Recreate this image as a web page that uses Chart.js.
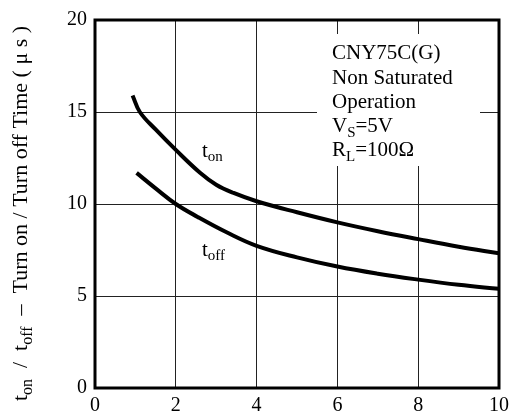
<!DOCTYPE html>
<html><head><meta charset="utf-8">
<style>html,body{margin:0;padding:0;background:#fff;}#wrap{width:515px;height:420px;position:relative;}</style>
<script src="https://cdn.jsdelivr.net/npm/chart.js@4/dist/chart.umd.min.js"></script>
</head><body><div id="wrap"><canvas id="c" width="515" height="420"></canvas></div>
<script>
// ---- data ----
const xTicks = [0, 2, 4, 6, 8, 10];
const yTicks = [0, 5, 10, 15, 20];
const tOnX  = [0.93, 1.11, 1.5, 2, 2.6, 3, 3.43, 4, 5, 6, 7, 8, 9, 10];
const tOnY  = [15.9, 15.0, 14.05, 12.94, 11.7, 11.05, 10.6, 10.15, 9.55, 9.0, 8.52, 8.09, 7.68, 7.32];
const tOffX = [1.03, 1.5, 2, 2.54, 3.27, 4, 5, 6, 7, 8, 9, 10];
const tOffY = [11.69, 10.85, 10.0, 9.3, 8.45, 7.73, 7.1, 6.6, 6.21, 5.89, 5.61, 5.39];
const noteLines = ["CNY75C(G)", "Non Saturated", "Operation"];

const SERIF = "'Liberation Serif', 'Times New Roman', serif";
function font(sz){ return sz + "px " + SERIF; }

function drawSub(ctx, x, y, main, sub, size, subSize, drop, rest){
  ctx.font = font(size);
  ctx.fillText(main, x, y);
  let w = ctx.measureText(main).width;
  ctx.font = font(subSize);
  ctx.fillText(sub, x + w, y + drop);
  w += ctx.measureText(sub).width;
  if (rest){ ctx.font = font(size); ctx.fillText(rest, x + w, y); w += ctx.measureText(rest).width; }
  return w;
}

// rich text segments: [text, isSubscript]
const titleSegs = [["t", 0], ["on", 1], ["  /  t", 0], ["off", 1], ["  \u2013  Turn on / Turn off Time ( \u03BC s )", 0]];

const deco = {
  id: 'deco',
  beforeDatasetsDraw(chart){
    const ctx = chart.ctx;
    ctx.save();
    ctx.fillStyle = '#fff';
    ctx.fillRect(317, 34, 163, 132);
    ctx.restore();
  },
  afterDatasetsDraw(chart){
    const ctx = chart.ctx, a = chart.chartArea;
    ctx.save();
    ctx.strokeStyle = '#000';
    ctx.lineWidth = 3;
    ctx.strokeRect(a.left, a.top, a.right - a.left, a.bottom - a.top);
    ctx.fillStyle = '#000';
    ctx.textBaseline = 'alphabetic';
    ctx.textAlign = 'left';
    // annotation
    ctx.font = font(21);
    ctx.fillText(noteLines[0], 332, 59);
    ctx.fillText(noteLines[1], 332, 84);
    ctx.fillText(noteLines[2], 332, 108);
    drawSub(ctx, 332, 132, "V", "S", 21, 15, 5, "=5V");
    drawSub(ctx, 332, 156, "R", "L", 21, 15, 5, "=100\u03A9");
    // curve labels
    drawSub(ctx, 202, 157, "t", "on", 21, 15, 4);
    drawSub(ctx, 202, 256, "t", "off", 21, 15, 4);
    // y title (rotated), centred between y=20 and y=407
    const big = 22, small = 16;
    let total = 0;
    for (const s of titleSegs){ ctx.font = font(s[1] ? small : big); total += ctx.measureText(s[0]).width; }
    ctx.save();
    ctx.translate(27, 213.5 + total / 2);
    ctx.rotate(-Math.PI / 2);
    let x = 0;
    for (const s of titleSegs){
      ctx.font = font(s[1] ? small : big);
      ctx.fillText(s[0], x, s[1] ? 5 : 0);
      x += ctx.measureText(s[0]).width;
    }
    ctx.restore();
    ctx.restore();
  }
};

const gridOpts = { color: '#222', lineWidth: 1, drawTicks: false };
new Chart(document.getElementById('c'), {
  type: 'scatter',
  data: {
    datasets: [
      { label: 'ton', data: tOnX.map((x, i) => ({ x, y: tOnY[i] })), showLine: true,
        borderColor: '#000', borderWidth: 4, pointRadius: 0, tension: 0.4, fill: false },
      { label: 'toff', data: tOffX.map((x, i) => ({ x, y: tOffY[i] })), showLine: true,
        borderColor: '#000', borderWidth: 4, pointRadius: 0, tension: 0.4, fill: false }
    ]
  },
  options: {
    responsive: false, animation: false, devicePixelRatio: 1,
    layout: { padding: { top: 17, right: 11, left: 0, bottom: 0 } },
    plugins: { legend: { display: false }, tooltip: { enabled: false } },
    scales: {
      x: {
        type: 'linear', min: 0, max: 10,
        afterBuildTicks: s => { s.ticks = xTicks.map(v => ({ value: v })); },
        afterFit: s => { s.height = 32; },
        grid: gridOpts, border: { display: false },
        ticks: { font: { family: SERIF, size: 20 }, color: '#000', padding: 6, maxRotation: 0, autoSkip: false }
      },
      y: {
        type: 'linear', min: 0, max: 20,
        afterBuildTicks: s => { s.ticks = yTicks.map(v => ({ value: v })); },
        afterFit: s => { s.width = 95; },
        grid: gridOpts, border: { display: false },
        ticks: { font: { family: SERIF, size: 20 }, color: '#000', padding: 8, autoSkip: false }
      }
    }
  },
  plugins: [deco]
});
</script>
</body></html>
